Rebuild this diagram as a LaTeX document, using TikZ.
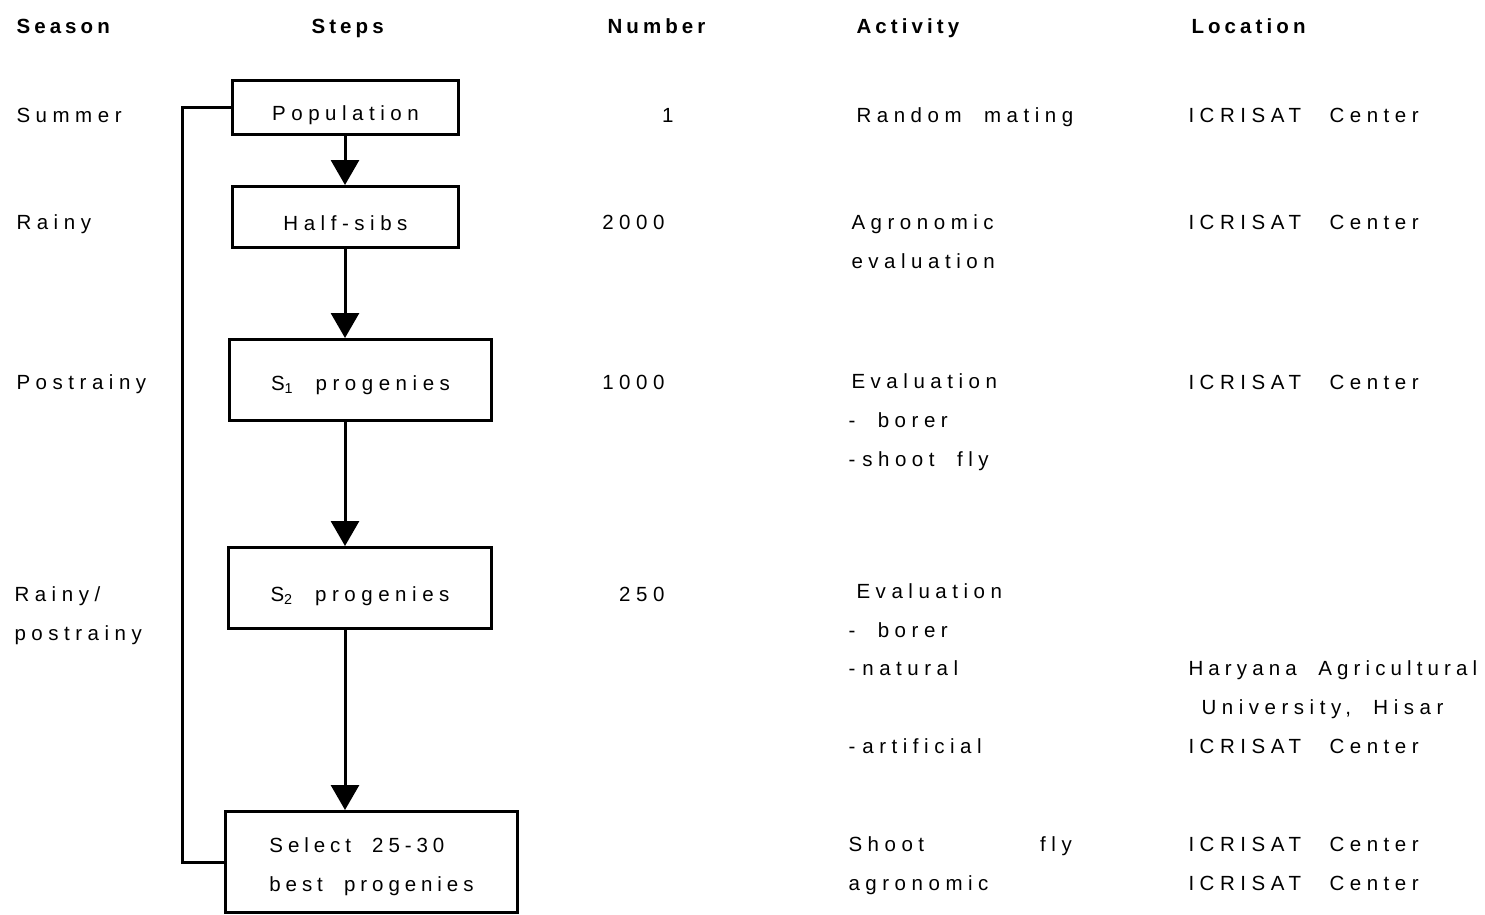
\documentclass[tikz,border=0pt]{standalone}
\usepackage{fontspec}
\setmainfont{Liberation Sans}[LetterSpace=27, WordSpace=2]
\usetikzlibrary{arrows.meta}
\usetikzlibrary{positioning}
\newcommand{\icrisat}{ICRISAT\hspace{6pt} Center}

\begin{document}
\begin{tikzpicture}[x=1pt, y=-1pt, line width=3pt,
  font=\fontsize{20.5}{38.6}\selectfont,
  stepbox/.style={draw, line width=3pt, anchor=north west, inner sep=0pt, text height=26pt, text depth=0pt},
  txt/.style={anchor=base west, inner sep=0pt, align=left},
  head/.style={txt, font=\fontsize{20.5}{38.6}\selectfont\bfseries\addfontfeature{LetterSpace=20}},
  >={Triangle[width=28pt,length=25pt]}]
\useasboundingbox (0,0) rectangle (1485,914);
% headings
\node[head] (hseason) at (15,33) {Season};
\node[head] (hsteps) at (310,33) {Steps};
\node[head] (hnumber) at (606,33) {Number};
\node[head] (hactivity) at (855,33) {Activity};
\node[head] (hlocation) at (1190,33) {Location};
% seasons (multi-line texts sit on their last line)
\node[txt] (summer) at (15,122) {Summer};
\node[txt] (rainy) at (15,229) {Rainy};
\node[txt] (postrainy) at (15,389) {Postrainy};
\node[txt] (rainypost) at (13,640) {Rainy/\\postrainy};
% steps
\node[stepbox, minimum width=226, minimum height=54] (pop) at (231,79) {Population};
\node[stepbox, minimum width=226, minimum height=61] (half) at (231,185) {Half-sibs};
\node[stepbox, minimum width=262, minimum height=81, text height=21pt] (sone) at (228,338) {S\textsubscript{1} progenies};
\node[stepbox, minimum width=263, minimum height=81] (stwo) at (227,546) {S\textsubscript{2} progenies};
\node[stepbox, minimum width=292, minimum height=101, align=left, text height=59pt,
  font=\fontsize{20.5}{38.6}\selectfont\addfontfeature{LetterSpace=24}] (sel) at (224,810) {Select 25-30\\best progenies};
\coordinate (spine) at (345,0);
\coordinate (back) at (182,0);
\foreach \a/\b in {pop/half, half/sone, sone/stwo, stwo/sel}
  \draw[->] (\a.south -| spine) -- (\b.north -| spine);
\draw (pop.west) -- (pop.west -| back) |- (sel.west);
% numbers
\node[txt, anchor=base east] (none) at (675,122) {1};
\node[txt, anchor=base east] (ntwo) at (666,229) {2000};
\node[txt, anchor=base east] (nthree) at (666,389) {1000};
\node[txt, anchor=base east] (nfour) at (666,601) {250};
% activities
\node[txt] (aone) at (855,122) {Random mating};
\node[txt] (atwo) at (850,268) {Agronomic\\evaluation};
\node[txt] (athree) at (847,466) {\hspace*{3pt}Evaluation\\- borer\\-\hspace{7pt}shoot fly};
\node[txt] (afour) at (847,753) {\hspace*{8pt}Evaluation\\- borer\\-\hspace{7pt}natural\\[38.6pt]-\hspace{7pt}artificial};
\node[txt] (afive) at (847,890) {Shoot\hspace{116pt}fly\\agronomic};
% locations
\foreach \y in {122,229,389}
  \node[txt] (loc\y) at (1187,\y) {\icrisat};
\node[txt] (lfour) at (1187,753) {{\addfontfeature{LetterSpace=25}Haryana Agricultural}\\\hspace*{13pt}University, Hisar\\\icrisat};
\node[txt] (lfive) at (1187,890) {\icrisat\\\icrisat};
\end{tikzpicture}
\end{document}
